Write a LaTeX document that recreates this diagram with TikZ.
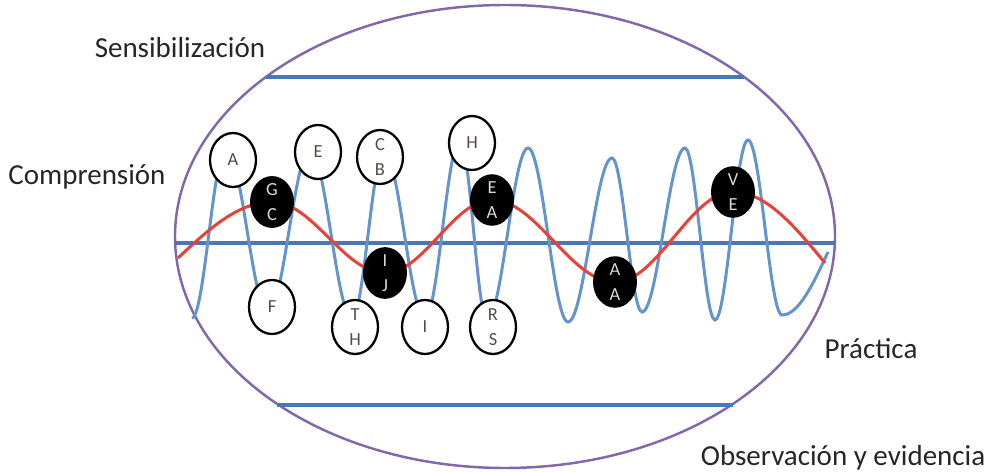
\documentclass[tikz,border=0pt]{standalone}
\usepackage{fontspec}
\setmainfont{Carlito}
\usepackage{tikz}
\usetikzlibrary{positioning, shapes.geometric, calc, backgrounds}
\definecolor{myPurple}{RGB}{130,104,170}
\definecolor{myBlue}{RGB}{74,120,182}
\definecolor{myWave}{RGB}{100,148,204}
\definecolor{myRed}{RGB}{232,66,56}
\definecolor{myInk}{RGB}{88,76,68}

\begin{document}
\begin{tikzpicture}[
  x=0.02cm, y=-0.02cm,
  stage/.style={font=\fontsize{16.5}{20}\selectfont, text=black!85},
  hole/.style={ellipse, draw, line width=1.3pt, fill=white, inner sep=0pt,
    minimum width=0.92cm, minimum height=1.08cm, align=center,
    font=\fontsize{10.5}{14}\selectfont, text=myInk},
  knot/.style={ellipse, fill=black, inner sep=0pt,
    minimum width=0.88cm, minimum height=0.93cm, align=center,
    font=\fontsize{10.5}{14}\selectfont, text=white!85!black},
  band/.style={myBlue, line width=2pt},
  wave/.style={myWave, line width=1.7pt},
  redwave/.style={myRed, line width=1.7pt},
]
  \useasboundingbox (0,0) rectangle (994,472);

  \node[stage] (sens) at (180,48) {Sensibilización};
  \node[stage] (comp) at (87,177) {Comprensión};
  \node[stage] (prac) at (871,349) {Práctica};
  \node[stage] (obs) at (843,458) {Observación y evidencia};

  \node[hole] (a) at (233,160) {A};
  \node[hole] (e) at (318,152) {E};
  \node[hole] (cb) at (380,157) {C\\B};
  \node[hole] (h) at (472,143) {H};
  \node[hole] (f) at (272,307) {F};
  \node[hole] (th) at (355,327) {T\\H};
  \node[hole] (i) at (425,327) {I};
  \node[hole] (rs) at (493,327) {R\\S};

  \node[knot] (gc) at (272,202) {G\\C};
  \node[knot] (ij) at (385,273) {I\\J};
  \node[knot] (ea) at (492,200) {E\\A};
  \node[knot] (aa) at (615,282) {A\\A};
  \node[knot] (ve) at (733,192) {V\\E};

  \coordinate (rin) at (178,258);
  \coordinate (rout) at (825,263);

  \begin{scope}[on background layer]
    \draw[myPurple, line width=1.4pt] (505,236.5) ellipse [x radius=330, y radius=231.5];
    \draw[band] (266,77) -- (744,77);
    \draw[band] (277,405) -- (733,405);
    \draw[band] (175,243) -- (835,243);
    \draw[wave] (192,318)
      \foreach \x/\y [remember=\x as \px (initially 192), remember=\y as \py (initially 318)]
        in {226/148, 268/312, 310/150, 352/318, 384/152, 425/318, 460/140, 487/320,
            528/148, 568/322, 612/158, 642/312, 685/148, 715/320, 748/140, 782/315}
        { cos ({(\px+\x)/2},{(\py+\y)/2}) sin (\x,\y) }
      cos (828,252);
    \draw[redwave] (rin) sin (gc.center)
      cos ($(gc)!.5!(ij)$) sin (ij.center)
      cos ($(ij)!.5!(ea)$) sin (ea.center)
      cos ($(ea)!.5!(aa)$) sin (aa.center)
      cos ($(aa)!.5!(ve)$) sin (ve.center)
      cos (rout);
  \end{scope}
\end{tikzpicture}
\end{document}
